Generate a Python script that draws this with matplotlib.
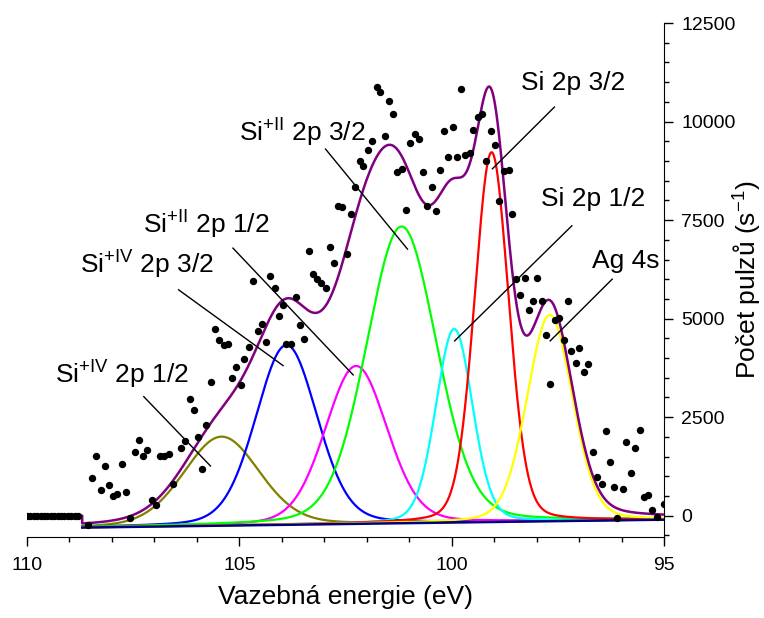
import numpy as np
import matplotlib
matplotlib.use('Agg')
import matplotlib.pyplot as plt

plt.rcParams['font.family'] = ['Liberation Sans', 'DejaVu Sans']
plt.rcParams['mathtext.fontset'] = 'custom'
plt.rcParams['mathtext.rm'] = 'Liberation Sans'
plt.rcParams['mathtext.it'] = 'Liberation Sans'
plt.rcParams['mathtext.default'] = 'regular'

# measured points (binding energy eV, counts/s)
flat_x = [110.0, 109.92, 109.84, 109.76, 109.68, 109.6, 109.52, 109.44,
          109.36, 109.28, 109.2, 109.12, 109.04, 108.96, 108.88, 108.8]
flat_y = [0] * len(flat_x)

dots_x = [108.56, 108.47, 108.37, 108.26, 108.17, 108.07, 107.98, 107.88,
          107.77, 107.67, 107.57, 107.46, 107.37, 107.26, 107.17, 107.06,
          106.96, 106.87, 106.77, 106.66, 106.57, 106.37, 106.27, 106.17,
          106.07, 105.98, 105.87, 105.78, 105.67, 105.57, 105.47, 105.36,
          105.26, 105.18, 105.07, 104.97, 104.88, 104.78, 104.67, 104.56,
          104.47, 104.37, 104.28, 104.17, 104.07, 103.97, 103.89, 103.79,
          103.67, 103.57, 103.47, 103.37, 103.27, 103.17, 103.07, 102.97,
          102.87, 102.77, 102.68, 102.58, 102.47, 102.38, 102.27, 102.17,
          102.08, 101.97, 101.88, 101.77, 101.69, 101.57, 101.48, 101.37,
          101.29, 101.18, 101.08, 100.97, 100.87, 100.77, 100.68, 100.58,
          100.47, 100.38, 100.28, 100.18, 100.08, 99.98, 99.88, 99.78,
          99.68, 99.58, 99.49, 99.37, 99.28, 99.18, 99.08, 98.97,
          98.89, 98.76, 98.66, 98.57, 98.48, 98.38, 98.28, 98.18,
          98.09, 97.98, 97.88, 97.79, 97.68, 97.57, 97.47, 97.36,
          97.27, 97.18, 97.07, 96.99, 96.88, 96.78, 96.68, 96.57,
          96.47, 96.37, 96.28, 96.18, 96.10, 95.97, 95.89, 95.78,
          95.68, 95.57, 95.48, 95.38, 95.28, 95.16, 95.00]
dots_y = [-244, 965, 1516, 645, 1249, 767, 508, 556,
          1312, 597, -51, 1610, 1917, 1503, 1655, 399,
          264, 1516, 1516, 1554, 792, 1714, 1891, 2963,
          2689, 2006, 1186, 2313, 3394, 4740, 4460, 4334,
          4359, 3503, 3762, 3318, 3986, 4283, 5951, 4694,
          4862, 4417, 6085, 5773, 5060, 5349, 4359, 4359,
          5560, 4836, 4478, 6715, 6123, 6009, 5895, 5773,
          6827, 6403, 7850, 7837, 6651, 7667, 8352, 9005,
          8860, 9276, 9495, 10876, 10749, 9640, 10520, 10198,
          8708, 8802, 7753, 9454, 9690, 9556, 8718, 7870,
          8345, 7718, 8781, 9766, 9101, 9868, 9089, 10825,
          9149, 9200, 9792, 10114, 10190, 9005, 9766, 9403,
          7982, 8743, 8758, 7654, 6001, 5603, 6042, 5214,
          5458, 6042, 5443, 4587, 3351, 4968, 5027, 4460,
          5443, 4181, 3869, 4265, 3640, 3844, 1617, 982,
          805, 2158, 1371, 729, -51, 678, 1871, 1076,
          1719, 2168, 467, 533, 145, -25, 297]

# fitted components: centre (eV), height above background, FWHM (eV)
peak_names = ['Si$^{+IV}$ 2p 1/2', 'Si$^{+IV}$ 2p 3/2', 'Si$^{+II}$ 2p 1/2',
              'Si$^{+II}$ 2p 3/2', 'Si 2p 1/2', 'Si 2p 3/2', 'Ag 4s']
peak_center = [105.42, 103.89, 102.25, 101.18, 99.94, 99.06, 97.69]
peak_height = [2258, 4560, 4005, 7527, 4912, 9380, 5234]
peak_fwhm = [2.10, 1.70, 1.72, 1.95, 1.02, 0.95, 1.26]
peak_colors = ['#808000', '#0000ff', '#ff00ff', '#00ff00', '#00ffff',
               '#ff0000', '#ffff00']
eta = 0.17

# linear background
bg_x = [108.7, 95.0]
bg_y = [-300, -100]

# label text position and leader line (start, end) in data units
label_pos = [(107.76, 3572), (107.17, 6364), (105.79, 7379), (103.53, 9703),
             (96.67, 8040), (97.15, 10972), (95.91, 6466)]
line_start = [(107.25, 3021), (106.43, 5731), (105.15, 6789), (102.97, 9302),
              (97.17, 7355), (97.58, 10368), (96.22, 6001)]
line_end = [(105.68, 1262), (103.97, 3808), (102.32, 3572), (101.04, 6763),
            (99.93, 4435), (99.04, 8802), (97.68, 4435)]


def pseudo_voigt(x, c, h, w):
    g = np.exp(-4 * np.log(2) * (x - c) ** 2 / w ** 2)
    lo = 1 / (1 + 4 * (x - c) ** 2 / w ** 2)
    return h * ((1 - eta) * g + eta * lo)


xs = np.linspace(bg_x[0], bg_x[1], 1200)
bg = np.interp(xs, bg_x[::-1], bg_y[::-1])

fig = plt.figure(figsize=(7.64, 6.18), dpi=100)
ax = fig.add_axes([27 / 764, 1 - 537 / 618, (664 - 27) / 764, (537 - 23) / 618])

total = bg.copy()
for c, h, w, col in zip(peak_center, peak_height, peak_fwhm, peak_colors):
    comp = pseudo_voigt(xs, c, h, w)
    total += comp
    ax.plot(xs, bg + comp, color=col, lw=1.6, zorder=2)

env_x = np.concatenate([flat_x[:1], [bg_x[0]], xs])
env_y = np.concatenate([[0, 0], total])
ax.plot(env_x, env_y, color='#800080', lw=1.8, zorder=3)
ax.plot(bg_x, bg_y, color='#000080', lw=1.8, zorder=3)

ax.plot(flat_x + dots_x, flat_y + dots_y, 'o', color='black', ms=4.3,
        zorder=4, lw=0)

for name, tp, ls, le in zip(peak_names, label_pos, line_start, line_end):
    ax.text(tp[0], tp[1], name, fontsize=19, ha='center', va='center')
    ax.plot([ls[0], le[0]], [ls[1], le[1]], color='black', lw=1, zorder=5)

ax.set_xlim(110, 95)
ax.set_ylim(-540, 12500)
ax.spines['left'].set_visible(False)
ax.spines['top'].set_visible(False)
ax.yaxis.tick_right()
ax.yaxis.set_label_position('right')
ax.set_xticks([110, 105, 100, 95])
ax.set_xticks(np.arange(95, 111, 1), minor=True)
ax.set_yticks([0, 2500, 5000, 7500, 10000, 12500])
ax.set_yticks(np.arange(-500, 12501, 500), minor=True)
ax.tick_params(which='major', length=6.5, width=1, labelsize=14, direction='out')
ax.tick_params(which='minor', length=3.5, width=1, direction='out')
ax.tick_params(axis='x', pad=8)
ax.tick_params(axis='y', pad=6)
ax.set_xlabel('Vazebná energie (eV)', fontsize=19, labelpad=8)
ax.set_ylabel('Počet pulzů (s$^{-1}$)', fontsize=19)
ax.yaxis.set_label_coords(1.106, 0.5)

fig.savefig('out.png', dpi=100)
